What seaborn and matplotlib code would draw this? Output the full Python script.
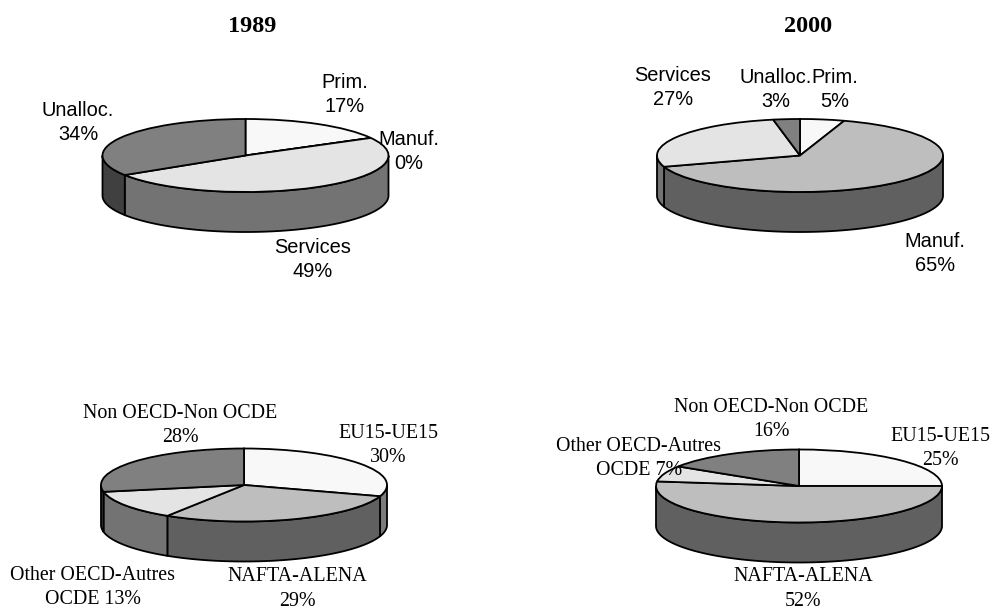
import numpy as np
import matplotlib
matplotlib.use("Agg")
import matplotlib.pyplot as plt
import seaborn as sns

# Sector shares
sector_names = ["Prim.", "Manuf.", "Services", "Unalloc."]
sector_1989 = [17, 0, 49, 34]
sector_2000 = [5, 65, 27, 3]

# Region shares
region_names = ["EU15-UE15", "NAFTA-ALENA", "Other OECD-Autres\nOCDE", "Non OECD-Non OCDE"]
region_1989 = [30, 29, 13, 28]
region_2000 = [25, 52, 7, 16]

years = ["1989", "2000"]

top_colors = ["#f8f8f8", "#bebebe", "#e4e4e4", "#808080"]
side_colors = ["#7c7c7c", "#606060", "#737373", "#404040"]

WIDTH, HEIGHT = 992, 609
DEPTH = 40
RX, RY = 143, 36.5
MARGIN = 1.2

# Label centres in pixels, one per slice
sector_1989_pos = [(345, 94.5), (409, 151.5), (313, 259.5), (78, 122.5)]
sector_2000_pos = [(835, 89.5), (935, 253.5), (673, 87.5), (776, 89.5)]
region_1989_pos = [(388, 445.5), (297, 589), (93, 587.5), (180, 425.5)]
region_2000_pos = [(940, 448.5), (803, 589), (639, 458.5), (771, 419.5)]

sns.set_theme(style="white")
plt.rcParams["figure.facecolor"] = "white"


def slice_label(name, value):
    # The region name that wraps keeps the value on its last line
    if "\n" in name:
        return f"{name} {value}%"
    return f"{name}\n{value}%"


def draw_pie(fig, values, names, centre, positions, font):
    cx, cy = centre
    depth = DEPTH / RY
    bottom = -1 - depth - 0.2
    top = MARGIN

    # One axes per pie, squashed so the circle turns into an ellipse
    ax_w = 2 * MARGIN * RX
    ax_h = (top - bottom) * RY
    left = (cx - MARGIN * RX) / WIDTH
    low = 1 - (cy - bottom * RY) / HEIGHT
    ax = fig.add_axes([left, low, ax_w / WIDTH, ax_h / HEIGHT])

    wedges, _ = ax.pie(
        values,
        colors=top_colors,
        startangle=90,
        counterclock=False,
        radius=1,
        wedgeprops={"edgecolor": "black", "linewidth": 1.3, "zorder": 3},
    )
    ax.set_aspect("auto")
    ax.set_xlim(-MARGIN, MARGIN)
    ax.set_ylim(bottom, top)

    # Walls of the cylinder: only the part of each wedge on the front half
    for wedge, color in zip(wedges, side_colors):
        for k in range(-2, 2):
            start = max(wedge.theta1, 180 + 360 * k)
            stop = min(wedge.theta2, 360 + 360 * k)
            if stop <= start:
                continue
            t = np.radians(np.linspace(start, stop, 120))
            xs = np.cos(t)
            ys = np.sin(t)
            ax.fill(
                np.r_[xs, xs[::-1]],
                np.r_[ys, ys[::-1] - depth],
                facecolor=color,
                edgecolor="black",
                linewidth=1.3,
                zorder=2,
            )

    ax.axis("off")

    for name, value, (x, y) in zip(names, values, positions):
        fig.text(
            x / WIDTH,
            1 - y / HEIGHT,
            slice_label(name, value),
            ha="center",
            va="center",
            family=font,
            fontsize=14.4,
            color="black",
            linespacing=1.38,
            zorder=5,
        )


def main():
    fig = plt.figure(figsize=(WIDTH / 100, HEIGHT / 100), dpi=100)

    draw_pie(fig, sector_1989, sector_names, (245.5, 155.5), sector_1989_pos, "Liberation Sans")
    draw_pie(fig, sector_2000, sector_names, (800, 155.5), sector_2000_pos, "Liberation Sans")
    draw_pie(fig, region_1989, region_names, (244, 485), region_1989_pos, "Liberation Serif")
    draw_pie(fig, region_2000, region_names, (799, 486), region_2000_pos, "Liberation Serif")

    for year, x in zip(years, [252, 808]):
        fig.text(
            x / WIDTH,
            1 - 26 / HEIGHT,
            year,
            ha="center",
            va="center",
            family="Liberation Serif",
            fontweight="bold",
            fontsize=17.5,
            color="black",
        )

    fig.savefig("out.png", dpi=100)
    plt.close(fig)


if __name__ == "__main__":
    main()
